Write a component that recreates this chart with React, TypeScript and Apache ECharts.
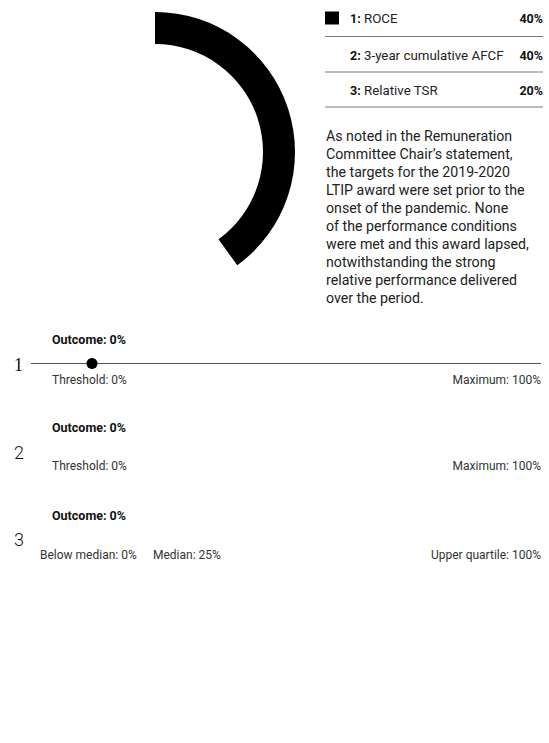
import React, { useEffect, useRef } from "react";
import * as echarts from "echarts";

const categories = ["ROCE", "3-year cumulative AFCF", "Relative TSR"];
const weights = [40, 40, 20];
const weightLabels = ["40%", "40%", "20%"];
const sliceColors = ["#000000", "rgba(0,0,0,0)", "rgba(0,0,0,0)"];

const paragraph = [
  "As noted in the Remuneration",
  "Committee Chair’s statement,",
  "the targets for the 2019-2020",
  "LTIP award were set prior to the",
  "onset of the pandemic. None",
  "of the performance conditions",
  "were met and this award lapsed,",
  "notwithstanding the strong",
  "relative performance delivered",
  "over the period.",
];

const outcomes = [0, 0, 0];
const outcomeLabels = ["Outcome: 0%", "Outcome: 0%", "Outcome: 0%"];
const scaleLabels = [
  ["Threshold: 0%", "Maximum: 100%"],
  ["Threshold: 0%", "Maximum: 100%"],
  ["Below median: 0%", "Median: 25%", "Upper quartile: 100%"],
];

const FONT = "Roboto, 'Noto Sans', sans-serif";

export default function App() {
  const ref = useRef<HTMLDivElement>(null);
  useEffect(() => {
    if (!ref.current) return;
    const chart = echarts.init(ref.current, null, { renderer: "svg" });

    const graphics: any[] = [];
    // legend table
    const rowY = [18, 55, 90];
    const lineY = [36.5, 72, 107];
    categories.forEach((c, i) => {
      if (sliceColors[i] !== "rgba(0,0,0,0)") {
        graphics.push({
          type: "rect",
          shape: { x: 325, y: rowY[i] - 6.5, width: 14, height: 13 },
          style: { fill: sliceColors[i] },
        });
      }
      graphics.push({
        type: "text",
        x: 350,
        y: rowY[i],
        style: {
          text: `{b|${i + 1}:} ${c}`,
          rich: { b: { fontWeight: "bold", fontSize: 12.5, fontFamily: FONT, fill: "#111" } },
          fontSize: 13.3,
          fontFamily: FONT,
          fill: "#222",
          verticalAlign: "middle",
        },
      });
      graphics.push({
        type: "text",
        x: 543,
        y: rowY[i],
        style: {
          text: weightLabels[i],
          fontSize: 12.5,
          fontWeight: "bold",
          fontFamily: FONT,
          fill: "#111",
          align: "right",
          verticalAlign: "middle",
        },
      });
      graphics.push({
        type: "line",
        shape: { x1: 325, y1: lineY[i], x2: 543, y2: lineY[i] },
        style: { stroke: "#777", lineWidth: 1.2 },
      });
    });

    // paragraph
    paragraph.forEach((t, i) => {
      graphics.push({
        type: "text",
        x: 326,
        y: 136 + i * 18,
        style: {
          text: t,
          fontSize: 14.2,
          fontFamily: FONT,
          fill: "#222",
          verticalAlign: "middle",
        },
      });
    });

    // performance rows
    const rowTop = [339, 427, 515];
    const numberY = [365, 452, 539];
    const scaleY = [380, 466, 555];
    outcomeLabels.forEach((t, i) => {
      graphics.push({
        type: "text",
        x: 52,
        y: rowTop[i],
        style: {
          text: t,
          fontSize: 12.5,
          fontWeight: "bold",
          fontFamily: FONT,
          fill: "#111",
          verticalAlign: "middle",
        },
      });
      graphics.push({
        type: "text",
        x: 14,
        y: numberY[i],
        style: {
          text: String(i + 1),
          fontSize: 18,
          fontFamily: i === 0 ? "'Liberation Serif', 'DejaVu Serif', serif" : "Roboto, sans-serif",
          fontWeight: i === 0 ? "normal" : 300,
          fill: "#111",
          verticalAlign: "middle",
        },
      });
    });
    // scale labels
    const scaleX = [
      [52, 541],
      [52, 541],
      [40, 153, 541],
    ];
    scaleLabels.forEach((labels, i) => {
      labels.forEach((t, j) => {
        const last = j === labels.length - 1;
        graphics.push({
          type: "text",
          x: scaleX[i][j],
          y: scaleY[i],
          style: {
            text: t,
            fontSize: 12,
            fontFamily: FONT,
            fill: "#333",
            align: last ? "right" : "left",
            verticalAlign: "middle",
          },
        });
      });
    });
    // track line for row 1
    graphics.push({
      type: "line",
      shape: { x1: 31, y1: 363.5, x2: 541, y2: 363.5 },
      style: { stroke: "#555", lineWidth: 1 },
      z: 1,
    });

    chart.setOption({
      animation: false,
      grid: { left: 92, width: 449, top: 358.5, height: 10 },
      xAxis: { type: "value", min: 0, max: 100, show: false },
      yAxis: { type: "category", data: ["1"], show: false },
      graphic: graphics,
      series: [
        {
          type: "pie",
          center: [155, 152],
          radius: [108, 140],
          startAngle: 90,
          clockwise: true,
          silent: true,
          label: { show: false },
          labelLine: { show: false },
          data: categories.map((c, i) => ({
            name: c,
            value: weights[i],
            itemStyle: { color: sliceColors[i] },
          })),
        },
        {
          type: "scatter",
          symbol: "circle",
          symbolSize: 11,
          z: 5,
          itemStyle: { color: "#000", opacity: 1 },
          data: [[outcomes[0], "1"]],
        },
      ],
    });
    return () => chart.dispose();
  }, []);
  return (
    <div
      ref={ref}
      style={{ position: "fixed", left: 0, top: 0, width: 549, height: 743, background: "#fff" }}
    />
  );
}
